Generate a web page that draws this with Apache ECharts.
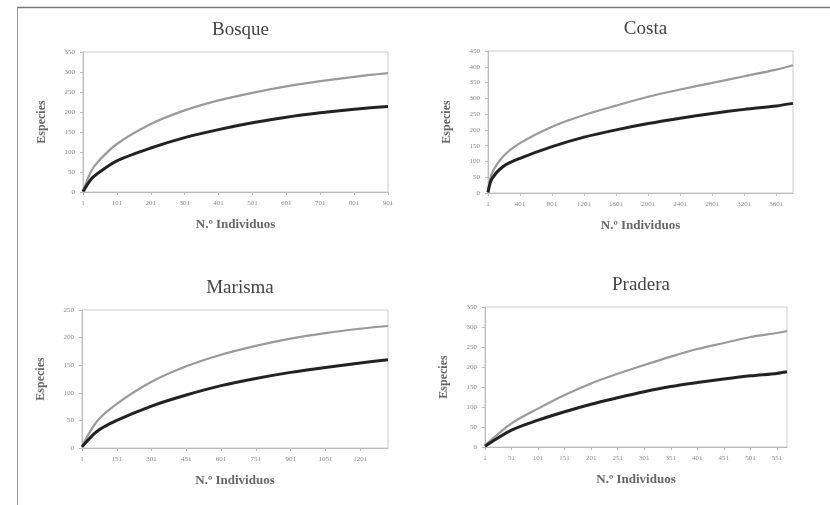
<!DOCTYPE html>
<html>
<head>
<meta charset="utf-8">
<script src="https://cdn.jsdelivr.net/npm/echarts@6/dist/echarts.min.js"></script>
<style>html,body{margin:0;padding:0;background:#fff;}#c{width:830px;height:505px;}</style>
</head>
<body>
<div id="c"></div>
<script>
// ---- data ----
const titles = ["Bosque", "Costa", "Marisma", "Pradera"];
const xName = "N.º Individuos";
const yName = "Especies";

const p1X = [1, 25, 50, 101, 201, 301, 401, 501, 601, 701, 801, 901];
const p1Upper = [1, 52, 80, 120, 170, 204, 229, 248, 264, 277, 288, 297];
const p1Lower = [1, 32, 50, 78, 110, 136, 156, 173, 187, 198, 207, 214];

const p2X = [1, 50, 190, 401, 801, 1201, 1601, 2001, 2401, 2801, 3201, 3601, 3810];
const p2Upper = [2, 62, 116, 158, 210, 247, 277, 305, 328, 349, 370, 391, 405];
const p2Lower = [2, 45, 84, 110, 147, 177, 200, 220, 237, 252, 265, 276, 284];

const p3X = [1, 65, 151, 301, 451, 601, 751, 901, 1051, 1201, 1321];
const p3Upper = [3, 48, 80, 120, 148, 169, 185, 198, 208, 216, 221];
const p3Lower = [2, 30, 50, 76, 96, 113, 126, 137, 146, 154, 160];

const p4X = [1, 51, 101, 151, 201, 251, 301, 351, 401, 451, 501, 551, 570];
const p4Upper = [4, 59, 96, 130, 159, 183, 205, 226, 245, 260, 275, 285, 290];
const p4Lower = [2, 42, 67, 88, 107, 123, 138, 151, 161, 170, 178, 184, 188];

const xSteps = [100, 400, 150, 50];
const xMax = [901, 3810, 1321, 570];
const yMax = [350, 450, 250, 350];
const yStep = 50;

// ---- layout ----
const grids = [
  {left: 83, top: 52, width: 305, height: 140},
  {left: 488, top: 51, width: 305, height: 142},
  {left: 82, top: 310, width: 306, height: 138},
  {left: 485, top: 307, width: 302, height: 140}
];
const panels = [
  [p1X, p1Upper, p1Lower],
  [p2X, p2Upper, p2Lower],
  [p3X, p3Upper, p3Lower],
  [p4X, p4Upper, p4Lower]
];
const serif = '"Liberation Serif", "DejaVu Serif", serif';

const option = {
  backgroundColor: '#fff',
  animation: false,
  title: titles.map((t, i) => ({
    text: t,
    left: grids[i].left + grids[i].width / 2,
    top: grids[i].top - 36,
    textAlign: 'center',
    textStyle: {fontFamily: serif, fontSize: 19, fontWeight: 'normal', color: '#444'}
  })),
  grid: grids.map(g => Object.assign({show: true, borderColor: '#ccc', borderWidth: 1, backgroundColor: '#fff'}, g)),
  xAxis: grids.map((g, i) => ({
    gridIndex: i, type: 'value', min: 1, max: xMax[i], interval: xSteps[i],
    name: xName, nameLocation: 'middle', nameGap: 26,
    nameTextStyle: {fontFamily: serif, fontSize: 13, fontWeight: 'bold', color: '#666'},
    axisLine: {show: true, lineStyle: {color: '#bbb'}},
    axisTick: {show: true, length: 3, lineStyle: {color: '#bbb'}},
    axisLabel: {fontFamily: serif, fontSize: 7, color: '#888', margin: 8, showMaxLabel: i === 0,
                formatter: v => String(v)},
    splitLine: {show: false}
  })),
  yAxis: grids.map((g, i) => ({
    gridIndex: i, type: 'value', min: 0, max: yMax[i], interval: yStep,
    name: yName, nameLocation: 'middle', nameGap: 35, nameRotate: 90,
    nameTextStyle: {fontFamily: serif, fontSize: 12, fontWeight: 'bold', color: '#666'},
    axisLine: {show: true, lineStyle: {color: '#bbb'}},
    axisTick: {show: true, length: 3, lineStyle: {color: '#bbb'}},
    axisLabel: {fontFamily: serif, fontSize: 7, color: '#888', margin: 8, formatter: v => String(v)},
    splitLine: {show: false}
  })),
  series: panels.flatMap((p, i) => [
    {type: 'line', xAxisIndex: i, yAxisIndex: i, smooth: 0.3, showSymbol: false,
     lineStyle: {color: '#9a9a9a', width: 2.2},
     data: p[0].map((x, k) => [x, p[1][k]])},
    {type: 'line', xAxisIndex: i, yAxisIndex: i, smooth: 0.3, showSymbol: false,
     lineStyle: {color: '#222', width: 3},
     data: p[0].map((x, k) => [x, p[2][k]])}
  ]),
  graphic: [
    {type: 'line', shape: {x1: 17, y1: 7.5, x2: 830, y2: 7.5}, style: {stroke: '#777', lineWidth: 1.5}},
    {type: 'line', shape: {x1: 17.5, y1: 7, x2: 17.5, y2: 505}, style: {stroke: '#999', lineWidth: 1}}
  ]
};
echarts.init(document.getElementById('c'), null, {renderer: 'canvas'}).setOption(option);
</script>
</body>
</html>
